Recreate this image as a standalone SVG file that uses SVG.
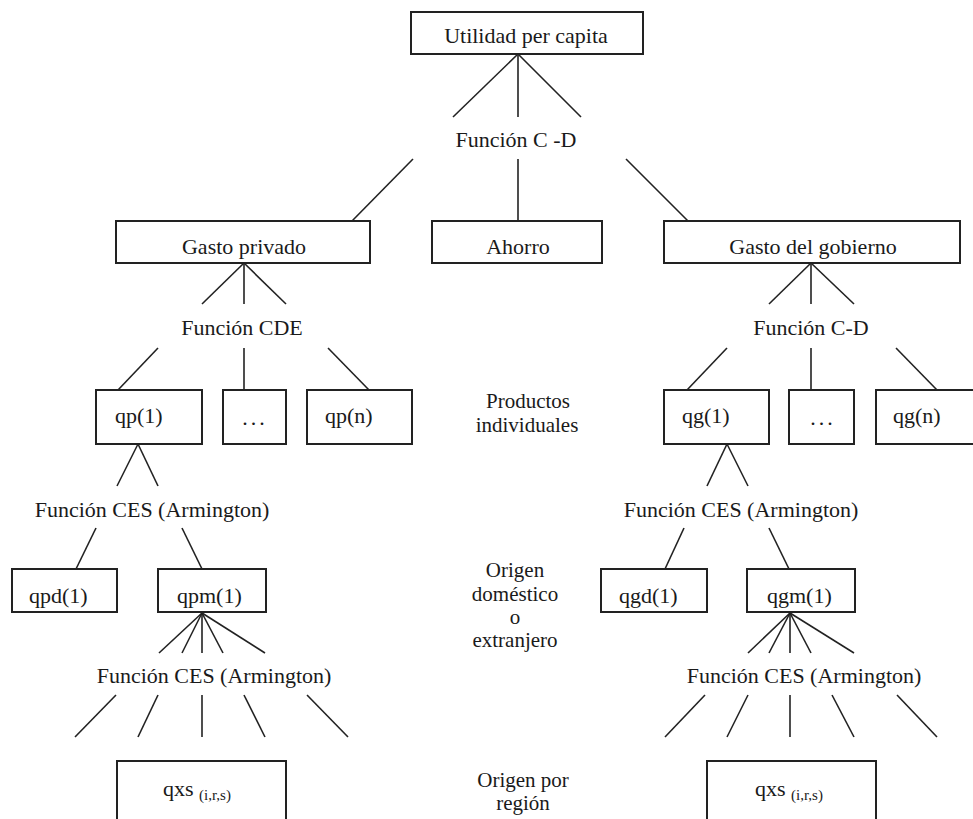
<svg xmlns="http://www.w3.org/2000/svg" width="973" height="819" viewBox="0 0 973 819">
<style>
rect.box{fill:#fff;stroke:#222;stroke-width:2}
.c line{stroke:#222;stroke-width:1.6}
text{font-size:22px;fill:#1a1a1a}
.m{text-anchor:middle}
.s{font-size:21px;text-anchor:middle}
.sub{font-size:15px}
</style>
<rect width="973" height="819" fill="#fff"/>
<g class="c" id="connectors">
<line x1="518" y1="54" x2="453" y2="117"/><line x1="518" y1="54" x2="518" y2="117"/><line x1="518" y1="54" x2="581" y2="117"/>
<line x1="413" y1="159" x2="352" y2="221"/><line x1="518" y1="159" x2="518" y2="221"/><line x1="626" y1="159" x2="688" y2="221"/>
<line x1="244" y1="263" x2="202" y2="304"/><line x1="244" y1="263" x2="244" y2="304"/><line x1="244" y1="263" x2="286" y2="304"/>
<line x1="158" y1="348" x2="118" y2="390"/><line x1="244" y1="348" x2="244" y2="390"/><line x1="328" y1="348" x2="369" y2="390"/>
<line x1="138" y1="444" x2="117" y2="486"/><line x1="138" y1="444" x2="158" y2="486"/>
<line x1="96" y1="528" x2="76" y2="569"/><line x1="182" y1="528" x2="202" y2="569"/>
<line x1="202" y1="613" x2="159" y2="653"/><line x1="202" y1="613" x2="182" y2="653"/><line x1="202" y1="613" x2="202" y2="653"/><line x1="202" y1="613" x2="223" y2="653"/><line x1="202" y1="613" x2="265" y2="653"/>
<line x1="116" y1="695" x2="75" y2="737"/><line x1="158" y1="695" x2="138" y2="737"/><line x1="202" y1="695" x2="202" y2="737"/><line x1="244" y1="695" x2="265" y2="737"/><line x1="307" y1="695" x2="348" y2="737"/>
<line x1="811" y1="263" x2="769" y2="304"/><line x1="811" y1="263" x2="811" y2="304"/><line x1="811" y1="263" x2="854" y2="304"/>
<line x1="727" y1="348" x2="687" y2="390"/><line x1="811" y1="348" x2="811" y2="390"/><line x1="896" y1="348" x2="937" y2="390"/>
<line x1="727" y1="444" x2="707" y2="486"/><line x1="727" y1="444" x2="748" y2="486"/>
<line x1="684" y1="528" x2="665" y2="569"/><line x1="769" y1="528" x2="789" y2="569"/>
<line x1="790" y1="613" x2="748" y2="653"/><line x1="790" y1="613" x2="769" y2="653"/><line x1="790" y1="613" x2="790" y2="653"/><line x1="790" y1="613" x2="811" y2="653"/><line x1="790" y1="613" x2="854" y2="653"/>
<line x1="705" y1="695" x2="665" y2="737"/><line x1="748" y1="695" x2="727" y2="737"/><line x1="790" y1="695" x2="790" y2="737"/><line x1="832" y1="695" x2="854" y2="737"/><line x1="897" y1="695" x2="937" y2="737"/>
</g>
<g font-family="'Liberation Serif', 'DejaVu Serif', serif">
<g id="utilidad"><rect class="box" x="411" y="12" width="232" height="42"/><text class="m" x="526" y="43">Utilidad per capita</text></g>
<g id="cd-top"><text class="m" x="516" y="147">Función C -D</text></g>
<g id="gasto-privado"><rect class="box" x="116" y="221" width="254" height="42"/><text class="m" x="244" y="254">Gasto privado</text></g>
<g id="ahorro"><rect class="box" x="432" y="221" width="170" height="42"/><text class="m" x="518" y="254">Ahorro</text></g>
<g id="gasto-gobierno"><rect class="box" x="664" y="221" width="296" height="42"/><text class="m" x="813" y="254">Gasto del gobierno</text></g>
<g id="cde"><text class="m" x="242" y="335">Función CDE</text></g>
<g id="cd-right"><text class="m" x="811" y="335">Función C-D</text></g>
<g id="qp1"><rect class="box" x="96" y="390" width="106" height="54"/><text x="115" y="423">qp(1)</text></g>
<g id="qp-dots"><rect class="box" x="223" y="390" width="63" height="54"/><text class="m" x="255" y="425" letter-spacing="3">...</text></g>
<g id="qpn"><rect class="box" x="307" y="390" width="105" height="54"/><text x="325" y="423">qp(n)</text></g>
<g id="qg1"><rect class="box" x="664" y="390" width="105" height="54"/><text x="682" y="423">qg(1)</text></g>
<g id="qg-dots"><rect class="box" x="789" y="390" width="65" height="54"/><text class="m" x="823" y="425" letter-spacing="3">...</text></g>
<g id="qgn"><rect class="box" x="876" y="390" width="110" height="54"/><text x="893" y="423">qg(n)</text></g>
<g id="label-productos"><text class="s" x="528" y="408">Productos</text><text class="s" x="527" y="432">individuales</text></g>
<g id="ces-p1"><text class="m" x="152" y="517">Función CES (Armington)</text></g>
<g id="ces-g1"><text class="m" x="741" y="517">Función CES (Armington)</text></g>
<g id="qpd1"><rect class="box" x="12" y="569" width="105" height="43"/><text x="29" y="603">qpd(1)</text></g>
<g id="qpm1"><rect class="box" x="158" y="569" width="108" height="43"/><text x="177" y="603">qpm(1)</text></g>
<g id="qgd1"><rect class="box" x="601" y="569" width="106" height="43"/><text x="619" y="603">qgd(1)</text></g>
<g id="qgm1"><rect class="box" x="747" y="569" width="108" height="43"/><text x="767" y="603">qgm(1)</text></g>
<g id="label-origen"><text class="s" x="515" y="577">Origen</text><text class="s" x="515" y="601">doméstico</text><text class="s" x="515" y="624">o</text><text class="s" x="515" y="647">extranjero</text></g>
<g id="ces-p2"><text class="m" x="214" y="683">Función CES (Armington)</text></g>
<g id="ces-g2"><text class="m" x="804" y="683">Función CES (Armington)</text></g>
<g id="qxs-p"><rect class="box" x="117" y="761" width="169" height="80"/><text x="163" y="796">qxs <tspan class="sub" dy="4">(i,r,s)</tspan></text></g>
<g id="qxs-g"><rect class="box" x="707" y="761" width="169" height="80"/><text x="755" y="796">qxs <tspan class="sub" dy="4">(i,r,s)</tspan></text></g>
<g id="label-region"><text class="s" x="523" y="787">Origen por</text><text class="s" x="523" y="810">región</text></g>
</g>
</svg>
